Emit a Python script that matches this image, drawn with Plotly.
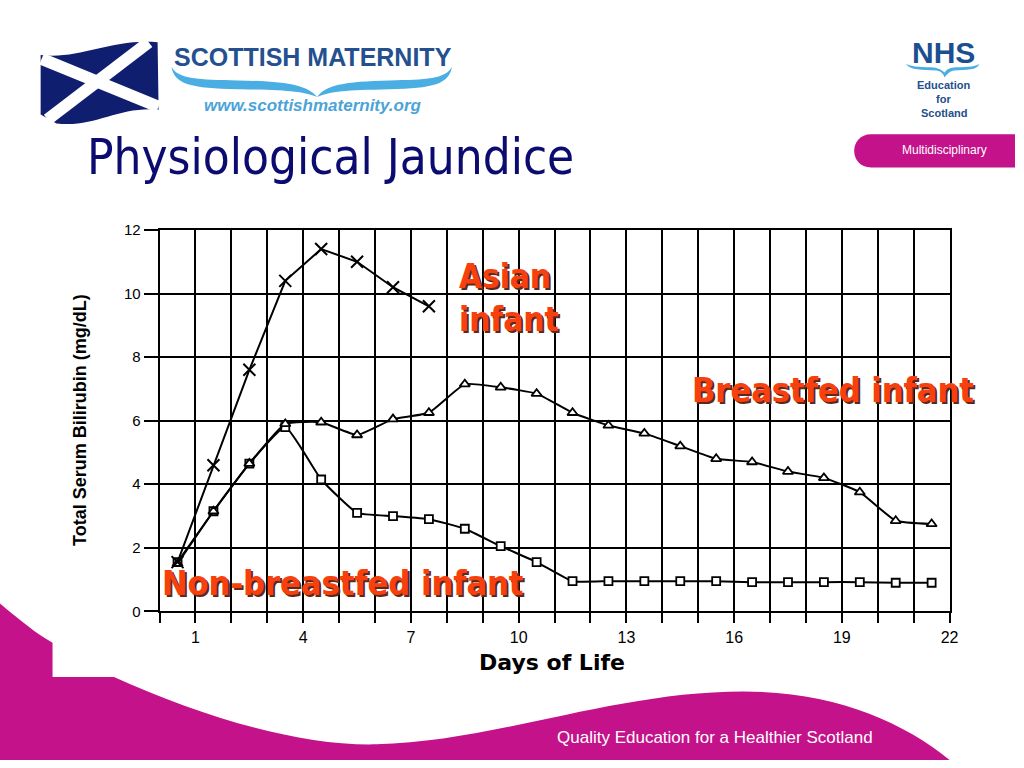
import plotly.graph_objects as go

# ---------------- data ----------------
asian_days = [0.5, 1.5, 2.5, 3.5, 4.5, 5.5, 6.5, 7.5]
asian_tsb = [1.55, 4.6, 7.6, 10.4, 11.4, 11.0, 10.2, 9.6]

all_days = [0.5, 1.5, 2.5, 3.5, 4.5, 5.5, 6.5, 7.5, 8.5, 9.5, 10.5,
            11.5, 12.5, 13.5, 14.5, 15.5, 16.5, 17.5, 18.5, 19.5, 20.5, 21.5]
breastfed_tsb = [1.5, 3.15, 4.65, 5.9, 5.95, 5.55, 6.05, 6.25, 7.15, 7.05, 6.85,
                 6.25, 5.85, 5.6, 5.2, 4.8, 4.7, 4.4, 4.2, 3.75, 2.85, 2.75]
nonbreastfed_tsb = [1.55, 3.15, 4.65, 5.8, 4.15, 3.1, 3.0, 2.9, 2.6, 2.05, 1.55,
                    0.95, 0.95, 0.95, 0.95, 0.95, 0.92, 0.92, 0.92, 0.92, 0.9, 0.9]

x_tick_vals = [1, 4, 7, 10, 13, 16, 19, 22]
y_tick_vals = [0, 2, 4, 6, 8, 10, 12]

W, H = 1024, 768
MAGENTA = "#C4128A"
NAVY = "#0B0B70"
RED = "#F8400E"


def px(x):
    return x / W


def py(y):
    return 1 - y / H


def path(cmds):
    out = []
    for c in cmds:
        if isinstance(c, str):
            out.append(c)
        else:
            out.append(f"{px(c[0]):.5f},{py(c[1]):.5f}")
    return " ".join(out)


fig = go.Figure()

fig.add_trace(go.Scatter(
    x=all_days, y=nonbreastfed_tsb, mode="lines+markers",
    line=dict(color="black", width=2, shape="spline", smoothing=0.4),
    marker=dict(symbol="square", size=8, color="white",
                line=dict(color="black", width=1.8)),
    name="Non-breastfed"))
fig.add_trace(go.Scatter(
    x=all_days, y=breastfed_tsb, mode="lines+markers",
    line=dict(color="black", width=2, shape="spline", smoothing=0.4),
    marker=dict(symbol="triangle-up", size=9, color="white",
                line=dict(color="black", width=1.8)),
    name="Breastfed"))
fig.add_trace(go.Scatter(
    x=asian_days, y=asian_tsb, mode="lines+markers",
    line=dict(color="black", width=2),
    marker=dict(symbol="x-thin", size=12, color="black",
                line=dict(color="black", width=2)),
    name="Asian"))

axis_font = dict(family="Liberation Sans, Arial, sans-serif", size=16, color="black")

fig.update_layout(
    width=W, height=H, autosize=False,
    margin=dict(l=0, r=0, t=0, b=0),
    paper_bgcolor="white", plot_bgcolor="white",
    showlegend=False,
    xaxis=dict(domain=[px(161), px(958)], range=[0, 22],
               tickvals=x_tick_vals, ticks="outside", ticklen=10, tickwidth=2,
               tickcolor="black", showgrid=True, gridcolor="black", gridwidth=2,
               minor=dict(tick0=0, dtick=1, showgrid=True, gridcolor="black",
                          gridwidth=2, ticks="outside", ticklen=10, tickwidth=2,
                          tickcolor="black"),
               showline=True, linecolor="black", linewidth=2, mirror=True,
               zeroline=False, tickfont=axis_font, fixedrange=True),
    yaxis=dict(domain=[py(616), py(226)], range=[0, 12],
               tickvals=y_tick_vals, ticks="outside", ticklen=14, tickwidth=2,
               tickcolor="black", showgrid=True, gridcolor="black", gridwidth=2,
               showline=True, linecolor="black", linewidth=2, mirror=True,
               zeroline=False, tickfont=dict(axis_font, size=15), fixedrange=True),
)

# ---------------- decorative shapes ----------------
shapes = []
# bottom magenta wave
shapes.append(dict(type="path", xref="paper", yref="paper", layer="below",
                   fillcolor=MAGENTA, line=dict(width=0),
                   path=path(["M", (0, 608), "C", (20, 625), (38, 640), (53, 648),
                              "L", (53, 683), "L", (115, 683),
                              "C", (200, 722), (300, 754), (380, 752),
                              "C", (500, 749), (620, 698), (750, 698),
                              "C", (840, 698), (910, 728), (958, 768),
                              "L", (0, 768), "Z"])))
# pill
shapes.append(dict(type="path", xref="paper", yref="paper", layer="above",
                   fillcolor=MAGENTA, line=dict(width=0),
                   path=path(["M", (1024, 128), "L", (879, 128),
                              "C", (856, 128), (856, 162), (879, 162),
                              "L", (1024, 162), "Z"])))
# flag
shapes.append(dict(type="path", xref="paper", yref="paper", layer="above",
                   fillcolor="#101E70", line=dict(width=0),
                   path=path(["M", (41, 47), "C", (80, 52), (112, 30), (159, 34),
                              "L", (160, 103),
                              "C", (120, 99), (95, 122), (57, 117),
                              "L", (41, 108), "Z"])))
shapes.append(dict(type="line", xref="paper", yref="paper", layer="above",
                   x0=px(42), y0=py(51), x1=px(160), y1=py(100),
                   line=dict(color="white", width=12)))
shapes.append(dict(type="line", xref="paper", yref="paper", layer="above",
                   x0=px(150), y0=py(34), x1=px(48), y1=py(113),
                   line=dict(color="white", width=12)))
# Scottish maternity wave
LB = "#4AAEE3"
shapes.append(dict(type="path", xref="paper", yref="paper", layer="above",
                   fillcolor=LB, line=dict(width=0),
                   path=path(["M", (173, 59), "C", (180, 72), (200, 72), (240, 73),
                              "C", (290, 74), (310, 78), (320, 90),
                              "C", (305, 84), (290, 83), (240, 82),
                              "C", (192, 81), (176, 77), (173, 59), "Z"])))
shapes.append(dict(type="path", xref="paper", yref="paper", layer="above",
                   fillcolor=LB, line=dict(width=0),
                   path=path(["M", (456, 59), "C", (449, 72), (430, 72), (393, 73),
                              "C", (346, 74), (328, 78), (320, 90),
                              "C", (334, 84), (348, 83), (393, 82),
                              "C", (437, 81), (453, 77), (456, 59), "Z"])))
# NHS wave
shapes.append(dict(type="path", xref="paper", yref="paper", layer="above",
                   fillcolor=LB, line=dict(width=0),
                   path=path(["M", (914, 56), "C", (918, 63), (930, 62), (945, 63),
                              "C", (950, 64), (952, 67), (953, 70),
                              "C", (955, 67), (958, 64), (962, 63),
                              "C", (975, 62), (986, 63), (988, 56),
                              "C", (984, 60), (972, 59), (960, 60),
                              "C", (956, 61), (954, 63), (953, 65),
                              "C", (951, 63), (948, 61), (944, 60),
                              "C", (932, 59), (920, 60), (914, 56), "Z"])))
fig.update_layout(shapes=shapes)

# ---------------- text ----------------
ann = []


def text(x, y, t, size, color, family="Liberation Sans, Arial, sans-serif",
         xanchor="center", yanchor="middle", angle=0, xshift=0, yshift=0,
         align="center"):
    ann.append(dict(x=px(x), y=py(y), xref="paper", yref="paper", text=t,
                    showarrow=False, xanchor=xanchor, yanchor=yanchor,
                    textangle=angle, xshift=xshift, yshift=yshift, align=align,
                    font=dict(size=size, color=color, family=family)))


TITLE_FONT = "DejaVu Sans Condensed, DejaVu Sans, Verdana, sans-serif"
text(86, 152, "Physiological Jaundice", 49, NAVY, family=TITLE_FONT, xanchor="left")
text(316, 49, "<b>SCOTTISH MATERNITY</b>", 25, "#24508F")
text(316, 99, "<b><i>www.scottishmaternity.org</i></b>", 17, "#4BA3D8")
text(952, 44, "<b>NHS</b>", 30, "#1A4F90")
text(952, 78, "<b>Education</b>", 11, "#244F8C")
text(952, 92, "<b>for</b>", 11, "#244F8C")
text(952, 106, "<b>Scotland</b>", 11, "#244F8C")
text(953, 144, "Multidisciplinary", 12, "white")
text(721, 745, "Quality Education for a Healthier Scotland", 17, "white")

text(80, 420, "<b>Total Serum Bilirubin (mg/dL)</b>", 18, "black", angle=-90)
text(557, 668, "<b>Days of Life</b>", 22, "black",
     family="DejaVu Sans, Verdana, sans-serif")

LABEL_FONT = "DejaVu Sans Condensed, DejaVu Sans, Verdana, sans-serif"
labels = [(461, 296, "Asian<br>infant", 33, "left"),
          (696, 390, "Breastfed infant", 34, "left"),
          (161, 587, "Non-breastfed infant", 34, "left")]
for (lx, ly, lt, ls, al) in labels:
    text(lx, ly, f"<b>{lt}</b>", ls, "#5A2A1C", family=LABEL_FONT,
         xanchor="left", xshift=2, yshift=-2, align=al)
    text(lx, ly, f"<b>{lt}</b>", ls, RED, family=LABEL_FONT, xanchor="left", align=al)

fig.update_layout(annotations=ann)

POST = (
    "document.documentElement.style.margin='0';"
    "document.documentElement.style.padding='0';"
    "document.documentElement.style.overflow='hidden';"
    "document.body.style.margin='0';"
    "document.body.style.padding='0';"
    "document.body.style.overflow='hidden';"
    "var g=document.getElementsByClassName('plotly-graph-div')[0];"
    "if(g){g.style.position='fixed';g.style.left='0px';g.style.top='0px';}"
)
fig.write_html("out.html", config={"displayModeBar": False, "staticPlot": True},
               post_script=POST)
